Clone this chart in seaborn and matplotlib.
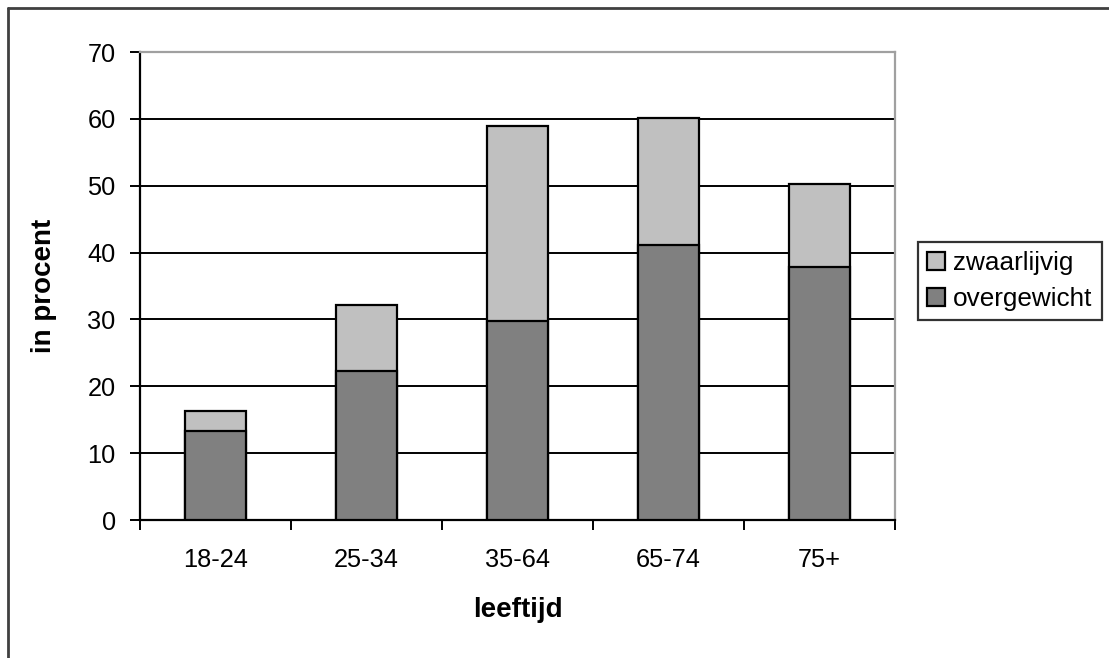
import matplotlib
matplotlib.use("Agg")
import matplotlib.pyplot as plt
from matplotlib.lines import Line2D
from matplotlib.patches import Patch
from matplotlib.ticker import FixedLocator
import seaborn as sns
import pandas as pd

# Age groups and shares (percent) of overweight and obese people
leeftijd = ["18-24", "25-34", "35-64", "65-74", "75+"]
overgewicht = [13.3, 22.3, 29.8, 41.2, 37.9]
zwaarlijvig = [3.0, 9.8, 29.1, 19.0, 12.4]
totaal = [o + z for o, z in zip(overgewicht, zwaarlijvig)]

df = pd.DataFrame({"leeftijd": leeftijd, "overgewicht": overgewicht,
                   "totaal": totaal})

sns.set_theme(style="white")
plt.rcParams["font.family"] = ["Liberation Sans", "DejaVu Sans"]
plt.rcParams["text.color"] = "black"
plt.rcParams["axes.labelcolor"] = "black"
plt.rcParams["xtick.color"] = "black"
plt.rcParams["ytick.color"] = "black"

W, H = 1109, 658
fig = plt.figure(figsize=(W / 100, H / 100), dpi=100)
ax = fig.add_axes([140 / W, 1 - 520 / H, (895 - 140) / W, (520 - 52) / H])

light = "#c0c0c0"
dark = "#808080"

# stacked bars: full height in light grey, lower part in dark grey
sns.barplot(data=df, x="leeftijd", y="totaal", color=light, width=0.41,
            edgecolor="black", linewidth=1.6, saturation=1, ax=ax, zorder=3)
sns.barplot(data=df, x="leeftijd", y="overgewicht", color=dark, width=0.41,
            edgecolor="black", linewidth=1.6, saturation=1, ax=ax, zorder=4)

ax.set_xlim(-0.5, len(leeftijd) - 0.5)
ax.set_ylim(0, 70)
ax.set_yticks(range(0, 71, 10))
ax.yaxis.grid(True, color="black", linewidth=1.4, zorder=1)
ax.set_axisbelow(True)

# tick marks at category boundaries, labels at centres
ax.xaxis.set_minor_locator(FixedLocator([i - 0.5 for i in range(len(leeftijd) + 1)]))
ax.tick_params(axis="x", which="major", length=0, pad=20, labelsize=18.3,
               labelcolor="black")
ax.tick_params(axis="x", which="minor", direction="out", length=7.5,
               width=1.4, color="black", bottom=True)
ax.tick_params(axis="y", direction="out", length=7.5, width=1.4,
               color="black", left=True, pad=10, labelsize=18.3,
               labelcolor="black")

for side in ("left", "bottom"):
    ax.spines[side].set_color("black")
    ax.spines[side].set_linewidth(1.6)
for side in ("top", "right"):
    ax.spines[side].set_visible(True)
    ax.spines[side].set_color("#a0a0a0")
    ax.spines[side].set_linewidth(1.6)

ax.set_xlabel("leeftijd", fontsize=20, fontweight="bold", labelpad=18,
              color="black")
ax.set_ylabel("in procent", fontsize=20, fontweight="bold", labelpad=22,
              color="black")

handles = [Patch(facecolor=light, edgecolor="black", linewidth=1.6),
           Patch(facecolor=dark, edgecolor="black", linewidth=1.6)]
leg = fig.legend(handles, ["zwaarlijvig", "overgewicht"],
                 loc="upper left", bbox_to_anchor=(918 / W, 1 - 242 / H),
                 fontsize=18.8, frameon=True, fancybox=False,
                 borderpad=0.35, handlelength=0.7, handleheight=0.7,
                 handletextpad=0.3, labelspacing=0.45, borderaxespad=0)
leg.get_frame().set_edgecolor("black")
leg.get_frame().set_linewidth(1.6)
for t in leg.get_texts():
    t.set_color("black")

# outer chart border (left and top edges)
fig.add_artist(Line2D([7.5 / W, 7.5 / W], [0, 1 - 7.5 / H],
                      transform=fig.transFigure, color="#404040", linewidth=2))
fig.add_artist(Line2D([7.5 / W, 1], [1 - 7.5 / H, 1 - 7.5 / H],
                      transform=fig.transFigure, color="#404040", linewidth=2))

fig.savefig("out.png", dpi=100, facecolor="white")
